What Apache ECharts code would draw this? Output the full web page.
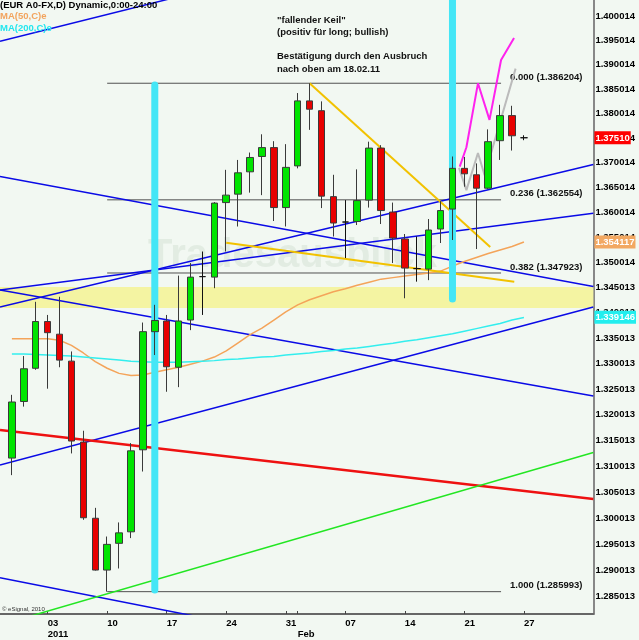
<!DOCTYPE html>
<html><head><meta charset="utf-8">
<script src="https://cdn.jsdelivr.net/npm/echarts@6/dist/echarts.min.js"></script>
<style>html,body{margin:0;padding:0;background:#f2f8f2}#c{width:639px;height:640px}</style>
</head><body><div id="c"></div>
<script>
// ---- data ----
const dates = ['29.12','30.12','31.12','03.01','04.01','05.01','06.01','07.01','10.01','11.01','12.01','13.01','14.01','17.01','18.01','19.01','20.01','21.01','24.01','25.01','26.01','27.01','28.01','31.01','01.02','02.02','03.02','04.02','07.02','08.02','09.02','10.02','11.02','14.02','15.02','16.02','17.02','18.02','21.02','22.02','23.02','24.02','25.02','28.02'];
const opens  = [1.3116,1.3226,1.3291,1.3383,1.3358,1.3305,1.3147,1.3000,1.2901,1.2952,1.2974,1.3132,1.3363,1.3384,1.3293,1.3386,1.3472,1.3471,1.3620,1.3637,1.3682,1.3713,1.3731,1.3610,1.3694,1.3826,1.3806,1.3632,1.3581,1.3582,1.3625,1.3730,1.3601,1.3547,1.3488,1.3487,1.3567,1.3607,1.3689,1.3676,1.3649,1.3745,1.3796,1.3751];
const highs  = [1.3239,1.3315,1.3422,1.3396,1.3432,1.3324,1.3169,1.3020,1.2965,1.2992,1.3145,1.3381,1.3416,1.3396,1.3474,1.3499,1.3522,1.3621,1.3686,1.3706,1.3721,1.3758,1.3744,1.3738,1.3842,1.3862,1.3825,1.3676,1.3625,1.3687,1.3743,1.3736,1.3620,1.3557,1.3552,1.3587,1.3623,1.3713,1.3712,1.3699,1.3768,1.3818,1.3816,1.3756];
const lows   = [1.3083,1.3216,1.3288,1.3251,1.3293,1.3125,1.2997,1.2900,1.2860,1.2904,1.2962,1.3090,1.3317,1.3245,1.3254,1.3366,1.3396,1.3449,1.3522,1.3572,1.3640,1.3635,1.3583,1.3572,1.3689,1.3767,1.3609,1.3552,1.3509,1.3575,1.3610,1.3577,1.3499,1.3429,1.3462,1.3465,1.3539,1.3545,1.3652,1.3527,1.3647,1.3706,1.3725,1.3746];
const closes = [1.3225,1.3290,1.3383,1.3361,1.3307,1.3149,1.3001,1.2901,1.2950,1.2972,1.3130,1.3363,1.3385,1.3294,1.3384,1.3471,1.3472,1.3619,1.3635,1.3680,1.3711,1.3731,1.3610,1.3691,1.3826,1.3809,1.3633,1.3579,1.3581,1.3624,1.3730,1.3604,1.3549,1.3489,1.3488,1.3565,1.3604,1.3689,1.3678,1.3649,1.3743,1.3796,1.3755,1.3751];
const ma50  = [1.3349,1.3349,1.3349,1.3349,1.3346,1.3336,1.3321,1.3304,1.3291,1.3281,1.3277,1.3278,1.3283,1.3288,1.3293,1.3299,1.3305,1.3313,1.3325,1.3341,1.3357,1.3370,1.3386,1.3402,1.3416,1.3426,1.3434,1.3442,1.3448,1.3455,1.3461,1.3467,1.3470,1.3473,1.3476,1.3479,1.3483,1.3493,1.3502,1.3510,1.3518,1.3525,1.3532,1.3541];
const ma200 = [1.3319,1.3319,1.3318,1.3317,1.3316,1.3315,1.3313,1.3311,1.3309,1.3307,1.3305,1.3304,1.3303,1.3303,1.3303,1.3304,1.3305,1.3306,1.3308,1.3309,1.3311,1.3313,1.3314,1.3317,1.3319,1.3321,1.3324,1.3326,1.3329,1.3331,1.3334,1.3337,1.3340,1.3344,1.3347,1.3351,1.3355,1.3359,1.3364,1.3369,1.3374,1.3379,1.3386,1.3391];
const yTicks = ['1.400014','1.395014','1.390014','1.385014','1.380014','1.375014','1.370014','1.365014','1.360014','1.355014','1.350014','1.345013','1.340013','1.335013','1.330013','1.325013','1.320013','1.315013','1.310013','1.305013','1.300013','1.295013','1.290013','1.285013'];
const xTickIdx = [3,8,13,18,23,28,33,38,43];
const xTickLabels = ['03','10','17','24','31','07','14','21','27'];
const xMarkIdx = [3,8,13,18,23,24,28,33,38,43];
const xRow2Idx = [3,24];
const xRow2Labels = ['2011','Feb'];
const tagValues = [1.37510, 1.354117, 1.339146];
const tagTexts = ['1.37510','1.354117','1.339146'];
const fibStart = 8, fibEnd = 41.08;
const fibLevels = [1.386204, 1.362554, 1.347923, 1.285993];
const fibNames = ['0.000','0.236','0.382','1.000'];
const zoneBand = [1.34098, 1.34515];
const blueLines = [
  [[-1,1.39482],[48.83,1.42569]],
  [[-1,1.36727],[48.83,1.34524]],
  [[-1,1.34118],[48.83,1.36969]],
  [[-1,1.34455],[48.83,1.32368]],
  [[-1,1.34455],[48.83,1.35986]],
  [[-1,1.31027],[48.83,1.34118]],
  [[-1,1.28865],[48.83,1.26655]]
];
const redLine = [[-1,1.31705],[48.83,1.30371]];
const greenLine = [[-1,1.27969],[48.83,1.31269]];
const yellowLines = [
  [[25,1.386204],[40.17,1.35311]],
  [[18,1.35397],[42.19,1.34620]]
];
const magentaPath = [[37.61,1.36924],[38.17,1.37317],[39.14,1.38619],[40.11,1.37872],[41.08,1.39098],[42.17,1.39550]];
const grayPath = [[37.55,1.3690],[38.17,1.3645],[39.14,1.3720],[39.7,1.3675],[42.3,1.3892]];
const cyanMarks = [
  [[12,1.38586],[12,1.28631]],
  [[37,1.4150],[37,1.34276]]
];
const yMin = 1.28176, yMax = 1.40334;
const xMin = -1, xMax = 48.833;

// ---- build ----
const L = Math.log;
const pts = arr => arr.map(p => [p[0], L(p[1])]);
const FONT = 'Liberation Sans, Arial, sans-serif';
const candleData = opens.map((o,i) => [i, L(o), L(closes[i]), L(lows[i]), L(highs[i])]);
const lineSeries = (data, color, width, z, extra) => Object.assign({
  type:'line', data: pts(data), symbol:'none', silent:true, z: z,
  lineStyle:{color:color, width:width}, animation:false
}, extra||{});

const series = [];
series.push({type:'line', data:[], z:1, silent:true,
  markArea:{silent:true, itemStyle:{color:'#f4f4a2'}, data:[[{xAxis:xMin, yAxis:L(zoneBand[0])},{xAxis:xMax, yAxis:L(zoneBand[1])}]]}});
fibLevels.forEach((v,k) => series.push(lineSeries([[fibStart,v],[fibEnd,v]], '#505050', 1, 2, {
  endLabel:{show:true, formatter: fibNames[k]+' ('+v.toFixed(6)+')', offset:[1,-6], color:'#111', fontSize:9.5, fontWeight:'bold', fontFamily:FONT}
})));
blueLines.forEach(l => series.push(lineSeries(l, '#0a0ae6', 1.5, 3)));
series.push(lineSeries(redLine, '#ee1111', 2.5, 3));
series.push(lineSeries(greenLine, '#22e622', 1.5, 3));
series.push({type:'line', data: ma50.map((v,i)=>[i,L(v)]), symbol:'none', silent:true, z:4, lineStyle:{color:'#f4a45a', width:1.5}});
series.push({type:'line', data: ma200.map((v,i)=>[i,L(v)]), symbol:'none', silent:true, z:4, lineStyle:{color:'#33eeee', width:1.5}});
yellowLines.forEach(l => series.push(lineSeries(l, '#f2c200', 2, 4)));
series.push(lineSeries(grayPath, '#bbbbbb', 2, 4));
series.push(lineSeries(magentaPath, '#ff22ee', 2, 4));
cyanMarks.forEach(l => series.push(lineSeries(l, '#44e6f6', 7, 5, {lineStyle:{color:'#44e6f6', width:7, cap:'round'}})));
series.push({type:'candlestick', data:candleData, encode:{x:0, y:[1,2,3,4]}, barWidth:7, z:8, silent:true,
  itemStyle:{color:'#00e400', color0:'#e80000', borderColor:'#3a3a3a', borderColor0:'#3a3a3a', borderColorDoji:'#111', borderWidth:1}});

const tagColors = ['#ff0000','#f2a862','#22eeee'];
const option = {
  backgroundColor:'#f2f8f2',
  animation:false,
  grid:{left:0, top:0, width:598, height:614, containLabel:false},
  xAxis:[{
    type:'value', min:xMin, max:xMax, position:'bottom',
    axisLine:{show:true, onZero:false, lineStyle:{color:'#666', width:2}},
    axisTick:{show:true, inside:true, length:3, customValues:xMarkIdx, lineStyle:{color:'#444'}},
    splitLine:{show:false},
    axisLabel:{customValues:xTickIdx, align:'left', margin:4, color:'#000', fontSize:9.5, fontWeight:'bold', fontFamily:FONT,
      formatter:v => xTickLabels[xTickIdx.indexOf(Math.round(v))] || ''}
  },{
    type:'value', min:xMin, max:xMax, position:'bottom',
    axisLine:{show:false}, axisTick:{show:false}, splitLine:{show:false},
    axisLabel:{customValues:xRow2Idx, align:'left', margin:15, color:'#000', fontSize:9.5, fontWeight:'bold', fontFamily:FONT,
      formatter:v => xRow2Labels[xRow2Idx.indexOf(Math.round(v))] || ''}
  }],
  yAxis:[{
    type:'value', min:L(yMin), max:L(yMax), position:'right',
    axisLine:{show:true, onZero:false, lineStyle:{color:'#888', width:2}},
    axisTick:{show:false}, splitLine:{show:false},
    axisLabel:{customValues:yTicks.map(s=>L(parseFloat(s))), margin:2, color:'#000', fontSize:9.5, fontWeight:'bold', fontFamily:FONT,
      formatter:v => { let b=yTicks[0], d=1e9; yTicks.forEach(s=>{const e=Math.abs(L(parseFloat(s))-v); if(e<d){d=e;b=s;}}); return b; }}
  },{
    type:'value', min:L(yMin), max:L(yMax), position:'right', z:20,
    axisLine:{show:false}, axisTick:{show:false}, splitLine:{show:false},
    axisLabel:{customValues:tagValues.map(L), margin:1, fontSize:9.5, fontWeight:'bold', fontFamily:FONT,
      formatter:v => { let k=0, d=1e9; tagValues.forEach((t,j)=>{const e=Math.abs(L(t)-v); if(e<d){d=e;k=j;}}); return '{t'+k+'|'+tagTexts[k]+'}'; },
      rich:{
        t0:{backgroundColor:tagColors[0], color:'#fff', padding:[2,1,1,1], fontSize:9.5, fontWeight:'bold', fontFamily:FONT},
        t1:{backgroundColor:tagColors[1], color:'#fff', padding:[2,1,1,1], fontSize:9.5, fontWeight:'bold', fontFamily:FONT},
        t2:{backgroundColor:tagColors[2], color:'#fff', padding:[2,1,1,1], fontSize:9.5, fontWeight:'bold', fontFamily:FONT}
      }}
  }],
  graphic:[
    {type:'text', z:0, left:148, top:236, style:{text:'Tradesausblick', fill:'#e2ece2', font:'bold 40px '+FONT}},
    {type:'text', z:100, left:0, top:0, style:{text:'(EUR A0-FX,D) Dynamic,0:00-24:00', fill:'#000', font:'bold 9.5px '+FONT}},
    {type:'text', z:100, left:0, top:11, style:{text:'MA(50,C)e', fill:'#f2a45e', font:'bold 9.5px '+FONT}},
    {type:'text', z:100, left:0, top:23, style:{text:'MA(200,C)e', fill:'#22e6ee', font:'bold 9.5px '+FONT}},
    {type:'text', z:100, left:277, top:15, style:{text:'"fallender Keil"', fill:'#111', font:'bold 9.5px '+FONT}},
    {type:'text', z:100, left:277, top:27, style:{text:'(positiv für long; bullish)', fill:'#111', font:'bold 9.5px '+FONT}},
    {type:'text', z:100, left:277, top:51, style:{text:'Bestätigung durch den Ausbruch', fill:'#111', font:'bold 9.5px '+FONT}},
    {type:'text', z:100, left:277, top:64, style:{text:'nach oben am 18.02.11', fill:'#111', font:'bold 9.5px '+FONT}},
    {type:'text', z:100, left:2, top:606, style:{text:'© eSignal, 2010', fill:'#333', font:'6px '+FONT}}
  ],
  series:series
};
const chart = echarts.init(document.getElementById('c'), null, {renderer:'canvas'});
chart.setOption(option);
</script></body></html>
